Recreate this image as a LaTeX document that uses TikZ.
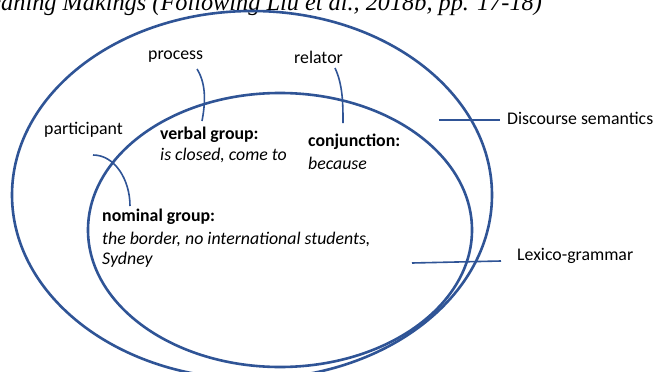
\documentclass[tikz,border=0pt]{standalone}
\usepackage{fontspec}
\setmainfont{Carlito}
\newfontfamily\capfont{Liberation Serif}
\definecolor{ringblue}{RGB}{47,84,150}
\begin{document}
\begin{tikzpicture}[x=1pt,y=-1pt,
  ring/.style={draw=ringblue,line width=2.6pt},
  link/.style={draw=ringblue,line width=1.6pt},
  lbl/.style={font=\fontsize{17.8}{21}\selectfont,inner sep=0pt,anchor=west}]
\fill[white] (0,0) rectangle (654,372);
\useasboundingbox (0,0) rectangle (654,372);
\clip (0,0) rectangle (654,372);
% caption fragment
\node[inner sep=0pt,anchor=base west,font=\capfont\itshape\fontsize{24.3}{28}\selectfont] (cap) at (-30,10) {Meaning Makings (Following Liu et al., 2018b, pp. 17-18)};
% ellipses
\draw[ring] (252,195) ellipse [x radius=240pt, y radius=184pt];
\draw[ring] (280,230) ellipse [x radius=192pt, y radius=137pt];
% labels
\node[lbl] (proc) at (148,57) {process};
\node[lbl] (rel) at (294,57) {relator};
\node[lbl] (part) at (44,130) {participant};
\node[lbl] (ds) at (507,118) {Discourse semantics};
\node[lbl] (lg) at (517,256) {Lexico-grammar};
% group texts
\node[lbl] (vg1) at (160,135) {\textbf{verbal group:}};
\node[lbl] (vg2) at (160,155) {\textit{is closed, come to}};
\node[lbl] (cj1) at (308,142) {\textbf{conjunction:}};
\node[lbl] (cj2) at (308,163) {\textit{because}};
\node[lbl] (ng1) at (102,217) {\textbf{nominal group:}};
\node[lbl] (ng2) at (102,239) {\textit{the border, no international students,}};
\node[lbl] (ng3) at (102,260) {\textit{Sydney}};
% connectors
\coordinate (pa) at (197,69);
\coordinate (pb) at (202,121);
\coordinate (ra) at (335,68);
\coordinate (rb) at (343,123);
\coordinate (qa) at (93,155);
\coordinate (qb) at (130,206);
\coordinate (da) at (439,120);
\coordinate (db) at (500,120);
\coordinate (la) at (412,263);
\coordinate (lb) at (501,261);
\draw[link] (pa) .. controls (207,85) and (205,105) .. (pb);
\draw[link] (ra) .. controls (343,85) and (343,105) .. (rb);
\draw[link] (qa) .. controls (115,155) and (130,180) .. (qb);
\draw[link] (da) -- (db);
\draw[link] (la) -- (lb);
\end{tikzpicture}
\end{document}
